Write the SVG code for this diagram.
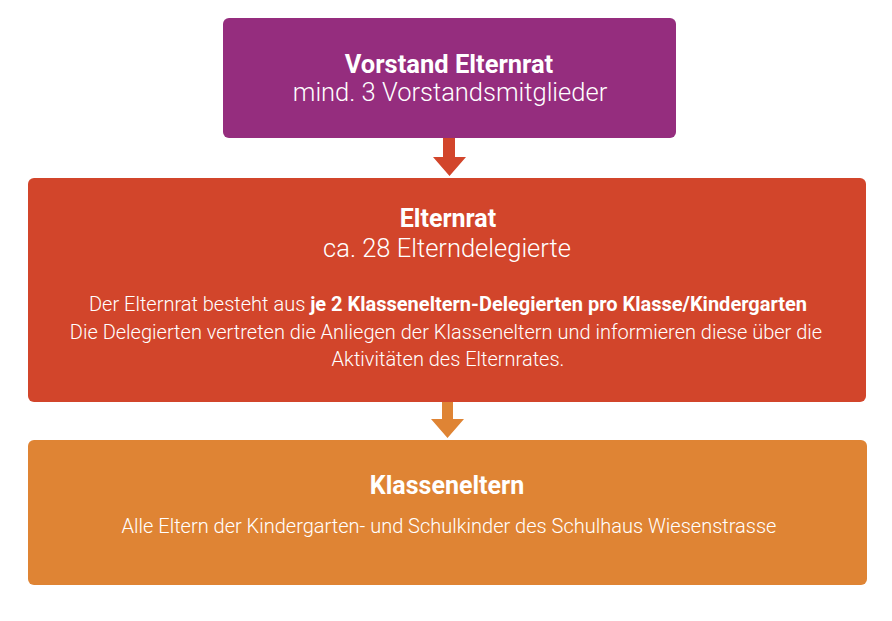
<svg xmlns="http://www.w3.org/2000/svg" width="892" height="621" viewBox="0 0 892 621">
<style>
.t{font-family:Roboto,"Liberation Sans",sans-serif;fill:#ffffff;text-anchor:middle}
.h{font-weight:700}
.l{font-weight:300}
</style>
<rect width="892" height="621" fill="#ffffff"/>
<g id="connectors">
<polygon points="443,137 455,137 455,157 466,157 449.5,176 433,157 443,157" fill="#d2452b"/>
<polygon points="442,402 453,402 453,419 464,419 447.5,438 431,419 442,419" fill="#df8434"/>
</g>
<g id="vorstand">
<rect x="223" y="18" width="453" height="120" rx="6" fill="#952d7e"/>
<text class="t h" x="449" y="73" font-size="25.5">Vorstand Elternrat</text>
<text class="t l" x="450" y="101" font-size="25.5">mind. 3 Vorstandsmitglieder</text>
</g>
<g id="elternrat">
<rect x="28" y="178" width="838" height="224" rx="6" fill="#d2452b"/>
<text class="t h" x="448" y="227" font-size="25">Elternrat</text>
<text class="t l" x="447" y="257" font-size="25.5">ca. 28 Elterndelegierte</text>
<text class="t l" x="448" y="311" font-size="20">Der Elternrat besteht aus <tspan class="h">je 2 Klasseneltern-Delegierten pro Klasse/Kindergarten</tspan></text>
<text class="t l" x="446" y="339" font-size="20">Die Delegierten vertreten die Anliegen der Klasseneltern und informieren diese über die</text>
<text class="t l" x="448" y="366" font-size="20">Aktivitäten des Elternrates.</text>
</g>
<g id="klasseneltern">
<rect x="28" y="440" width="839" height="145" rx="6" fill="#df8434"/>
<text class="t h" x="447" y="494" font-size="25">Klasseneltern</text>
<text class="t l" x="449" y="533" font-size="20">Alle Eltern der Kindergarten- und Schulkinder des Schulhaus Wiesenstrasse</text>
</g>
</svg>
